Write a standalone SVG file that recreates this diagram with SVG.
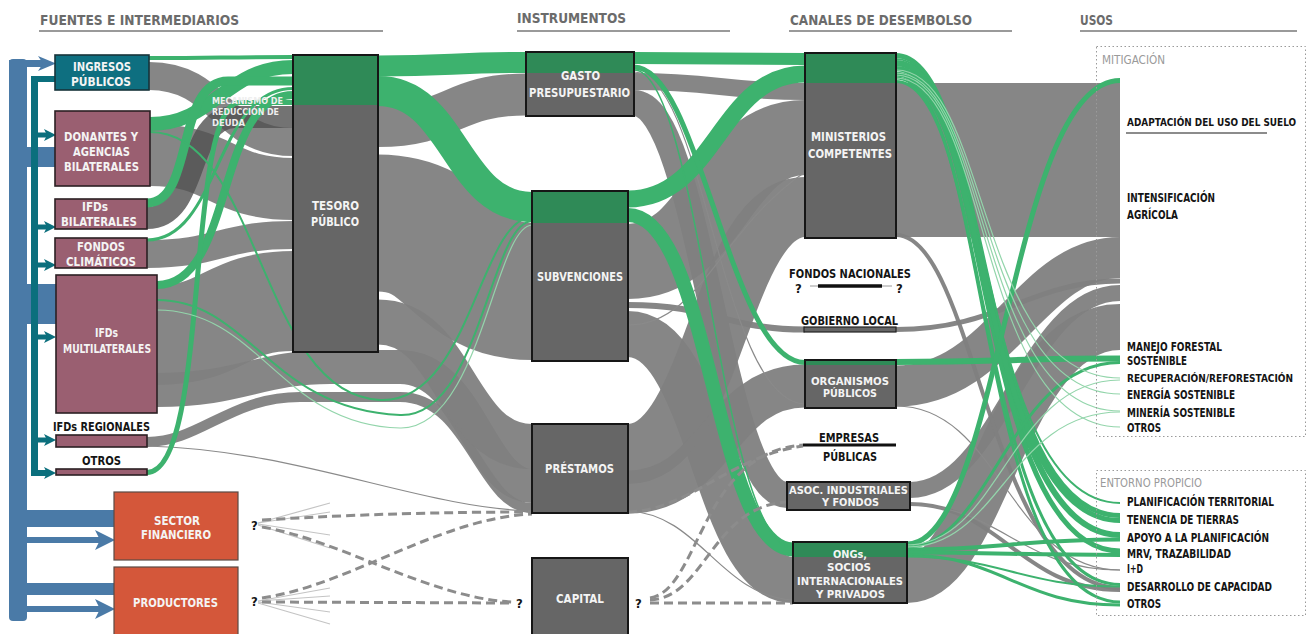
<svg xmlns="http://www.w3.org/2000/svg" width="1309" height="634" viewBox="0 0 1309 634">
<style>
.g{fill:#808080;fill-opacity:.95}
.s{fill:none;stroke:#808080;stroke-opacity:.95}
.sd{fill:none;stroke:#505050;stroke-opacity:.8}
.sg{fill:none;stroke:#3db26e}
.ll{fill:none;stroke:#93d5ab;stroke-width:1.2}
.lg{fill:none;stroke:#8a8a8a;stroke-width:1.2}
.dash{fill:none;stroke:#8c8c8c;stroke-width:3;stroke-dasharray:9 5}
.fan{fill:none;stroke:#c4c4c4;stroke-width:1.2}
.box{fill:#666}
.bd{fill:none;stroke:#161616;stroke-width:2}
.top{fill:#2f8a57}
.src{fill:#9a5f71;stroke:#2b2024;stroke-width:1.6}
.org{fill:#d4573a;stroke:#5a4a44;stroke-width:1.2}
.blue{fill:#4a7aa7}
.teal{fill:#0b6f7d}
.t{font-family:"Liberation Sans Narrow","DejaVu Sans Condensed","Liberation Sans",sans-serif;font-weight:bold}
.lab{font-size:12.8px;fill:#f4f4f4}
.blk{font-size:12.8px;fill:#141414}
.use{font-size:12.5px;fill:#141414}
.hd{font-size:14px;fill:#6b6b6b}
.cat{font-size:12px;fill:#9a9a9a;font-weight:normal}
.q{font-size:13px;fill:#141414}
.frame{fill:none;stroke:#9a9a9a;stroke-width:1;stroke-dasharray:1.5 2.5}
.hl{stroke:#9a9a9a;stroke-width:2}
</style>
<rect width="1309" height="634" fill="#fff"/>

<g id="headers">
<text class="t hd" x="40" y="25" textLength="199" lengthAdjust="spacingAndGlyphs">FUENTES E INTERMEDIARIOS</text>
<line class="hl" x1="39" y1="31" x2="383" y2="31"/>
<text class="t hd" x="517" y="23" textLength="109" lengthAdjust="spacingAndGlyphs">INSTRUMENTOS</text>
<line class="hl" x1="517" y1="31" x2="730" y2="31"/>
<text class="t hd" x="790" y="25" textLength="182" lengthAdjust="spacingAndGlyphs">CANALES DE DESEMBOLSO</text>
<line class="hl" x1="789" y1="31" x2="1012" y2="31"/>
<text class="t hd" x="1080" y="25" textLength="33" lengthAdjust="spacingAndGlyphs">USOS</text>
<line class="hl" x1="1080" y1="31" x2="1297" y2="31"/>
</g>

<g id="connectors">
<!-- gray flows: sources to tesoro -->
<path class="s" stroke-width="28" d="M149 76 C221 76 221 142 293 142"/>
<path class="s" stroke-width="62" d="M150 155 C221 155 221 189 293 189"/>
<path class="s" stroke-width="28" d="M147 254 C220 254 220 235 293 235"/>
<path class="s" stroke-width="100" d="M157 335 C225 335 225 301 293 301"/>
<path class="s" stroke-width="34" d="M157 390 C240 390 260 367 330 367 L400 367 C470 367 480 486 532 486"/>
<path class="s" stroke-width="10" d="M147 442 C200 442 230 397 300 397 L400 397 C470 397 480 508 532 508"/>
<!-- tesoro to instruments -->
<path class="s" stroke-width="42" d="M378 126 C452 126 452 94.5 526 94.5"/>
<path class="s" stroke-width="137" d="M378 223 C455 223 455 291.5 532 291.5"/>
<path class="s" stroke-width="45" d="M378 322 C455 322 455 446.5 532 446.5"/>
<!-- instruments to channels -->
<path class="s" stroke-width="17" d="M634 81.5 C715 81.5 725 91.5 805 91.5"/>
<path class="s" stroke-width="26" d="M634 103 C700 103 720 495 787 495"/>
<path class="s" stroke-width="75" d="M628 261.5 C715 261.5 720 137.5 805 137.5"/>
<path class="s" stroke-width="6" d="M628 305 C715 305 725 329.5 805 329.5"/>
<path class="s" stroke-width="46" d="M628 334 C710 334 715 580 793 580"/>
<path class="s" stroke-width="60" d="M628 454 C715 454 720 207 805 207"/>
<path class="s" stroke-width="43" d="M628 492 C715 492 720 386 805 386"/>
<!-- channels to uses -->
<path class="g" d="M896 83 L1120 83 L1120 237 L896 237 Z"/>
<path class="s" stroke-width="41" d="M896 386 C1000 386 1030 257.5 1120 257.5"/>
<path class="s" stroke-width="5" d="M896 329.5 C1000 329.5 1030 281 1120 281"/>
<path class="s" stroke-width="16" d="M910 490 C1000 490 1025 293 1120 293"/>
<path class="s" stroke-width="46" d="M907 580 C985 580 1005 327 1120 327"/>
<path class="s" stroke-width="4" d="M910 504 C1000 504 1020 590 1120 590"/>
<path class="s" stroke-width="4" d="M896 235 C975 235 990 588 1120 588"/>
<path class="lg" d="M896 406 C1000 406 1010 570 1120 570"/>
<path class="lg" d="M910 505 C1000 505 1020 570 1120 570"/>
<path class="lg" d="M147 446 C300 450 420 508 532 511"/>
<path class="lg" d="M628 511 C700 514 720 596 793 600"/>
<path class="lg" d="M634 72 C705 72 720 402 805 404"/>
<path class="lg" d="M628 325 C700 325 720 230 805 172"/>
<!-- debt mechanism band -->
<path class="sd" stroke-width="22" d="M147 218 C200 218 185 117 235 117 L293 117"/>

<!-- green flows -->
<path class="sg" stroke-width="4" d="M149 58 C221 58 221 57 293 57"/>
<path class="sg" stroke-width="14" d="M150 124 C215 124 225 67 293 67"/>
<path class="sg" stroke-width="9" d="M147 203 C195 203 175 81 228 81 L293 81"/>
<path class="sg" stroke-width="3" d="M147 240 C220 240 215 88.5 293 88.5"/>
<path class="sg" stroke-width="8" d="M157 285 C235 285 215 95 293 95"/>
<path class="sg" stroke-width="5" d="M147 472.5 C210 472.5 185 102.5 240 102.5 L293 102.5"/>
<path class="sg" stroke-width="2" d="M150 132 C260 132 260 395 380 400 C470 404 480 218 532 217"/>
<path class="sg" stroke-width="2" d="M157 300 C250 300 270 410 400 415 C480 418 490 222 532 221"/>
<path class="ll" d="M157 310 C260 310 280 425 400 428 C480 430 495 226 532 225"/>
<path class="sg" stroke-width="21" d="M378 66 C452 66 452 62.5 526 62.5"/>
<path class="sg" stroke-width="30" d="M378 91 C455 91 455 207 532 207"/>
<path class="sg" stroke-width="12" d="M634 58 C715 58 725 59 805 59"/>
<path class="sg" stroke-width="17" d="M628 199 C715 199 720 74 805 74"/>
<path class="sg" stroke-width="14" d="M628 215 C710 215 715 549.5 793 549.5"/>
<path class="sg" stroke-width="5" d="M634 67 C700 67 730 362.5 805 362.5"/>
<path class="sg" stroke-width="1.5" d="M634 70 C700 70 720 547 793 548"/>
<path class="sg" stroke-width="6" d="M896 362 C1000 362 1010 358.5 1120 358.5"/>
<path class="sg" stroke-width="5" d="M896 55.5 C990 55.5 975 515.5 1120 515.5"/>
<path class="sg" stroke-width="2" d="M896 59 C990 59 975 503 1120 503"/>
<path class="sg" stroke-width="6" d="M896 63 C990 63 975 535 1120 535"/>
<path class="sg" stroke-width="5" d="M896 68.5 C990 68.5 975 551 1120 551"/>
<path class="sg" stroke-width="5" d="M896 74 C990 74 975 520.5 1120 520.5"/>
<path class="sg" stroke-width="3" d="M896 78 C990 78 975 602 1120 602"/>
<path class="sg" stroke-width="3" d="M896 81.5 C990 81.5 975 584.5 1120 584.5"/>
<path class="sg" stroke-width="5" d="M907 544 C1000 544 1010 80.5 1120 80.5"/>
<path class="sg" stroke-width="3" d="M907 547 C990 547 1010 362.5 1120 362.5"/>
<path class="sg" stroke-width="4" d="M907 549.5 C1000 549.5 1020 539.5 1120 539.5"/>
<path class="sg" stroke-width="4" d="M907 552.5 C1000 552.5 1020 555 1120 555"/>
<path class="sg" stroke-width="3" d="M907 555 C1000 555 1020 605 1120 605"/>
<path class="sg" stroke-width="2" d="M907 556.5 C1000 556.5 1020 586.5 1120 586.5"/>
<path class="ll" d="M896 70 C990 70 975 378 1120 378"/>
<path class="ll" d="M896 73 C990 73 975 394 1120 394"/>
<path class="ll" d="M896 75 C990 75 975 411 1120 411"/>
<path class="ll" d="M896 78 C990 78 975 427 1120 427"/>
<path class="ll" d="M907 545 C1000 545 1010 380 1120 380"/>
<path class="ll" d="M907 547 C1000 547 1010 412 1120 412"/>
<!-- dashed flows -->
<path class="fan" d="M258 523 L330 503 M258 523 L330 512 M258 524 L330 535 M258 525 L330 548 M258 601 L330 588 M258 601 L330 596 M258 602 L330 612 M258 603 L330 624"/>
<path class="dash" d="M262 520 C360 514 450 512 532 512"/>
<path class="dash" d="M262 527 C340 540 430 598 512 602"/>
<path class="dash" d="M262 602 L512 603"/>
<path class="dash" d="M262 598 C350 585 440 518 532 514"/>
<path class="dash" d="M650 603 L793 603"/>
<path class="dash" d="M650 600 C705 598 712 506 787 502"/>
<path class="dash" d="M650 598 C700 590 700 452 803 445"/>
<path class="dash" d="M628 512 C690 510 730 456 803 446"/>
</g>

<g id="arrows">
<rect class="blue" x="9" y="59" width="18" height="562" rx="4"/>
<rect class="blue" x="9" y="60" width="34" height="7"/>
<polygon class="blue" points="38,56 56,63.5 38,71 43,63.5"/>
<rect class="blue" x="27" y="147" width="28" height="20"/>
<rect class="blue" x="27" y="284" width="29" height="40"/>
<rect class="blue" x="27" y="510" width="88" height="17"/>
<rect class="blue" x="27" y="537" width="73" height="6"/>
<polygon class="blue" points="95,530 115,540 95,550 100,540"/>
<rect class="blue" x="27" y="583" width="88" height="12"/>
<rect class="blue" x="27" y="606" width="73" height="6"/>
<polygon class="blue" points="95,599 115,609 95,619 100,609"/>
<rect class="teal" x="31" y="76" width="7" height="400"/>
<rect class="teal" x="31" y="76" width="24" height="6"/>
<g class="teal">
<rect x="38" y="132.5" width="10" height="5"/><polygon points="44,129 56,135 44,141 47,135"/>
<rect x="38" y="224.5" width="10" height="5"/><polygon points="44,221 56,227 44,233 47,227"/>
<rect x="38" y="262.5" width="10" height="5"/><polygon points="44,259 56,265 44,271 47,265"/>
<rect x="38" y="334.5" width="10" height="5"/><polygon points="44,331 56,337 44,343 47,337"/>
<rect x="38" y="437.5" width="10" height="5"/><polygon points="44,434 56,440 44,446 47,440"/>
<rect x="38" y="470" width="10" height="6"/><polygon points="44,467 56,473 44,479 47,473"/>
</g>
</g>

<g id="ingresos">
<rect x="55" y="55" width="94" height="35" fill="#0e6f80" stroke="#17343a" stroke-width="1.6"/>
<text class="t lab" x="73" y="71" textLength="58" lengthAdjust="spacingAndGlyphs">INGRESOS</text>
<text class="t lab" x="71" y="86" textLength="60" lengthAdjust="spacingAndGlyphs">PÚBLICOS</text>
</g>
<g id="donantes">
<rect class="src" x="55" y="111" width="95" height="75"/>
<text class="t lab" x="64" y="141" textLength="74" lengthAdjust="spacingAndGlyphs">DONANTES Y</text>
<text class="t lab" x="73" y="156" textLength="57" lengthAdjust="spacingAndGlyphs">AGENCIAS</text>
<text class="t lab" x="64" y="171" textLength="75" lengthAdjust="spacingAndGlyphs">BILATERALES</text>
</g>
<g id="ifds-bilaterales">
<rect class="src" x="55" y="199" width="92" height="30"/>
<text class="t lab" x="82" y="211" textLength="26" lengthAdjust="spacingAndGlyphs">IFDs</text>
<text class="t lab" x="61" y="226" textLength="76" lengthAdjust="spacingAndGlyphs">BILATERALES</text>
</g>
<g id="fondos-climaticos">
<rect class="src" x="55" y="238" width="92" height="30"/>
<text class="t lab" x="77" y="251" textLength="48" lengthAdjust="spacingAndGlyphs">FONDOS</text>
<text class="t lab" x="66" y="266" textLength="70" lengthAdjust="spacingAndGlyphs">CLIMÁTICOS</text>
</g>
<g id="ifds-multilaterales">
<rect class="src" x="56" y="275" width="101" height="138"/>
<text class="t lab" x="95" y="337" textLength="23" lengthAdjust="spacingAndGlyphs">IFDs</text>
<text class="t lab" x="63" y="353" textLength="88" lengthAdjust="spacingAndGlyphs">MULTILATERALES</text>
</g>
<g id="ifds-regionales">
<rect class="src" x="56" y="435" width="91" height="12"/>
<text class="t blk" x="53" y="431" textLength="97" lengthAdjust="spacingAndGlyphs">IFDs REGIONALES</text>
</g>
<g id="otros-fuentes">
<rect class="src" x="56" y="469" width="91" height="6"/>
<text class="t blk" x="82" y="465" textLength="39" lengthAdjust="spacingAndGlyphs">OTROS</text>
</g>
<g id="sector-financiero">
<rect class="org" x="114" y="492" width="124" height="68"/>
<text class="t lab" style="font-size:12px" x="154" y="525" textLength="46" lengthAdjust="spacingAndGlyphs">SECTOR</text>
<text class="t lab" style="font-size:12px" x="141" y="539" textLength="70" lengthAdjust="spacingAndGlyphs">FINANCIERO</text>
<text class="t q" x="251" y="530">?</text>
</g>
<g id="productores">
<rect class="org" x="114" y="567" width="124" height="70"/>
<text class="t lab" x="133" y="607" textLength="85" lengthAdjust="spacingAndGlyphs">PRODUCTORES</text>
<text class="t q" x="251" y="606">?</text>
</g>

<g id="tesoro">
<rect class="box" x="293" y="55" width="85" height="297"/>
<rect class="top" x="293" y="55" width="85" height="50"/>
<rect class="bd" x="293" y="55" width="85" height="297"/>
<text class="t lab" x="312" y="210" textLength="47" lengthAdjust="spacingAndGlyphs">TESORO</text>
<text class="t lab" x="311" y="226" textLength="48" lengthAdjust="spacingAndGlyphs">PÚBLICO</text>
</g>
<g id="mecanismo">
<text class="t" style="font-size:9.4px;fill:#eee" x="212" y="104" textLength="71" lengthAdjust="spacingAndGlyphs">MECANISMO DE</text>
<text class="t" style="font-size:9.4px;fill:#eee" x="212" y="115" textLength="67" lengthAdjust="spacingAndGlyphs">REDUCCIÓN DE</text>
<text class="t" style="font-size:9.4px;fill:#eee" x="212" y="126" textLength="33" lengthAdjust="spacingAndGlyphs">DEUDA</text>
</g>

<g id="gasto">
<rect class="box" x="526" y="52" width="108" height="64"/>
<rect class="top" x="526" y="52" width="108" height="21"/>
<rect class="bd" x="526" y="52" width="108" height="64"/>
<text class="t lab" x="561" y="80" textLength="39" lengthAdjust="spacingAndGlyphs">GASTO</text>
<text class="t lab" x="529" y="97" textLength="101" lengthAdjust="spacingAndGlyphs">PRESUPUESTARIO</text>
</g>
<g id="subvenciones">
<rect class="box" x="532" y="191" width="96" height="170"/>
<rect class="top" x="532" y="191" width="96" height="32"/>
<rect class="bd" x="532" y="191" width="96" height="170"/>
<text class="t lab" x="537" y="281" textLength="86" lengthAdjust="spacingAndGlyphs">SUBVENCIONES</text>
</g>
<g id="prestamos">
<rect class="box" x="532" y="424" width="96" height="89"/>
<rect class="bd" x="532" y="424" width="96" height="89"/>
<text class="t lab" x="545" y="473" textLength="69" lengthAdjust="spacingAndGlyphs">PRÉSTAMOS</text>
</g>
<g id="capital">
<rect class="box" x="532" y="558" width="96" height="80"/>
<rect class="bd" x="532" y="558" width="96" height="80"/>
<text class="t lab" x="556" y="603" textLength="48" lengthAdjust="spacingAndGlyphs">CAPITAL</text>
<text class="t q" x="516" y="608">?</text>
<text class="t q" x="635" y="608">?</text>
</g>

<g id="ministerios">
<rect class="box" x="805" y="53" width="91" height="185"/>
<rect class="top" x="805" y="53" width="91" height="30"/>
<rect class="bd" x="805" y="53" width="91" height="185"/>
<text class="t lab" x="811" y="141" textLength="75" lengthAdjust="spacingAndGlyphs">MINISTERIOS</text>
<text class="t lab" x="808" y="158" textLength="84" lengthAdjust="spacingAndGlyphs">COMPETENTES</text>
</g>
<g id="fondos-nacionales">
<text class="t blk" x="789" y="278" textLength="122" lengthAdjust="spacingAndGlyphs">FONDOS NACIONALES</text>
<line x1="810" y1="286" x2="892" y2="286" stroke="#9a9a9a" stroke-width="1"/>
<line x1="818" y1="286" x2="882" y2="286" stroke="#111" stroke-width="3.5"/>
<text class="t q" x="795" y="293">?</text>
<text class="t q" x="896" y="293">?</text>
</g>
<g id="gobierno-local">
<rect x="804" y="327" width="92" height="5" fill="#666" stroke="#222" stroke-width="1.2"/>
<text class="t blk" x="801" y="325" textLength="97" lengthAdjust="spacingAndGlyphs">GOBIERNO LOCAL</text>
</g>
<g id="organismos">
<rect class="box" x="805" y="360" width="91" height="48"/>
<rect class="top" x="805" y="360" width="91" height="5"/>
<rect class="bd" x="805" y="360" width="91" height="48"/>
<text class="t lab" style="font-size:10.5px" x="811" y="385" textLength="78" lengthAdjust="spacingAndGlyphs">ORGANISMOS</text>
<text class="t lab" style="font-size:10.5px" x="823" y="397" textLength="54" lengthAdjust="spacingAndGlyphs">PÚBLICOS</text>
</g>
<g id="empresas">
<line x1="803" y1="445" x2="896" y2="445" stroke="#111" stroke-width="3"/>
<text class="t blk" x="819" y="442" textLength="60" lengthAdjust="spacingAndGlyphs">EMPRESAS</text>
<text class="t blk" x="823" y="461" textLength="54" lengthAdjust="spacingAndGlyphs">PÚBLICAS</text>
</g>
<g id="asociaciones">
<rect class="box" x="787" y="482" width="123" height="28"/>
<rect class="bd" x="787" y="482" width="123" height="28"/>
<text class="t lab" style="font-size:10.5px" x="789" y="494" textLength="119" lengthAdjust="spacingAndGlyphs">ASOC. INDUSTRIALES</text>
<text class="t lab" style="font-size:10.5px" x="822" y="506" textLength="57" lengthAdjust="spacingAndGlyphs">Y FONDOS</text>
</g>
<g id="ongs">
<rect class="box" x="793" y="542" width="114" height="61"/>
<rect class="top" x="793" y="542" width="114" height="15"/>
<rect class="bd" x="793" y="542" width="114" height="61"/>
<text class="t lab" style="font-size:11.2px" x="833" y="558" textLength="34" lengthAdjust="spacingAndGlyphs">ONGs,</text>
<text class="t lab" style="font-size:11.2px" x="827" y="571" textLength="44" lengthAdjust="spacingAndGlyphs">SOCIOS</text>
<text class="t lab" style="font-size:11.2px" x="797" y="585" textLength="106" lengthAdjust="spacingAndGlyphs">INTERNACIONALES</text>
<text class="t lab" style="font-size:11.2px" x="816" y="598" textLength="69" lengthAdjust="spacingAndGlyphs">Y PRIVADOS</text>
</g>

<g id="mitigacion">
<rect class="frame" x="1096.5" y="46.5" width="209" height="390"/>
<text class="t cat" x="1102" y="64" textLength="63" lengthAdjust="spacingAndGlyphs">MITIGACIÓN</text>
<text class="t use" style="font-size:10px" x="1127" y="126" textLength="169" lengthAdjust="spacingAndGlyphs">ADAPTACIÓN DEL USO DEL SUELO</text>
<line x1="1126" y1="133" x2="1267" y2="133" stroke="#666" stroke-width="1.5"/>
<text class="t use" x="1127" y="202" textLength="88" lengthAdjust="spacingAndGlyphs">INTENSIFICACIÓN</text>
<text class="t use" x="1127" y="219" textLength="51" lengthAdjust="spacingAndGlyphs">AGRÍCOLA</text>
<text class="t use" style="font-size:12px" x="1127" y="351" textLength="95" lengthAdjust="spacingAndGlyphs">MANEJO FORESTAL</text>
<text class="t use" style="font-size:12px" x="1127" y="365" textLength="60" lengthAdjust="spacingAndGlyphs">SOSTENIBLE</text>
<text class="t use" style="font-size:10.3px" x="1127" y="382" textLength="166" lengthAdjust="spacingAndGlyphs">RECUPERACIÓN/REFORESTACIÓN</text>
<text class="t use" x="1127" y="399" textLength="108" lengthAdjust="spacingAndGlyphs">ENERGÍA SOSTENIBLE</text>
<text class="t use" x="1127" y="417" textLength="108" lengthAdjust="spacingAndGlyphs">MINERÍA SOSTENIBLE</text>
<text class="t use" x="1127" y="432" textLength="34" lengthAdjust="spacingAndGlyphs">OTROS</text>
</g>
<g id="entorno">
<rect class="frame" x="1096.5" y="470.5" width="209" height="145"/>
<text class="t cat" x="1100" y="487" textLength="102" lengthAdjust="spacingAndGlyphs">ENTORNO PROPICIO</text>
<text class="t use" text-anchor="end" x="1274" y="506" textLength="147" lengthAdjust="spacingAndGlyphs">PLANIFICACIÓN TERRITORIAL</text>
<text class="t use" x="1127" y="524" textLength="112" lengthAdjust="spacingAndGlyphs">TENENCIA DE TIERRAS</text>
<text class="t use" text-anchor="end" x="1269" y="542" textLength="142" lengthAdjust="spacingAndGlyphs">APOYO A LA PLANIFICACIÓN</text>
<text class="t use" x="1127" y="558" textLength="104" lengthAdjust="spacingAndGlyphs">MRV, TRAZABILIDAD</text>
<text class="t use" x="1127" y="573" textLength="16" lengthAdjust="spacingAndGlyphs">I+D</text>
<text class="t use" text-anchor="end" x="1272" y="591" textLength="145" lengthAdjust="spacingAndGlyphs">DESARROLLO DE CAPACIDAD</text>
<text class="t use" x="1127" y="608" textLength="34" lengthAdjust="spacingAndGlyphs">OTROS</text>
</g>
</svg>
